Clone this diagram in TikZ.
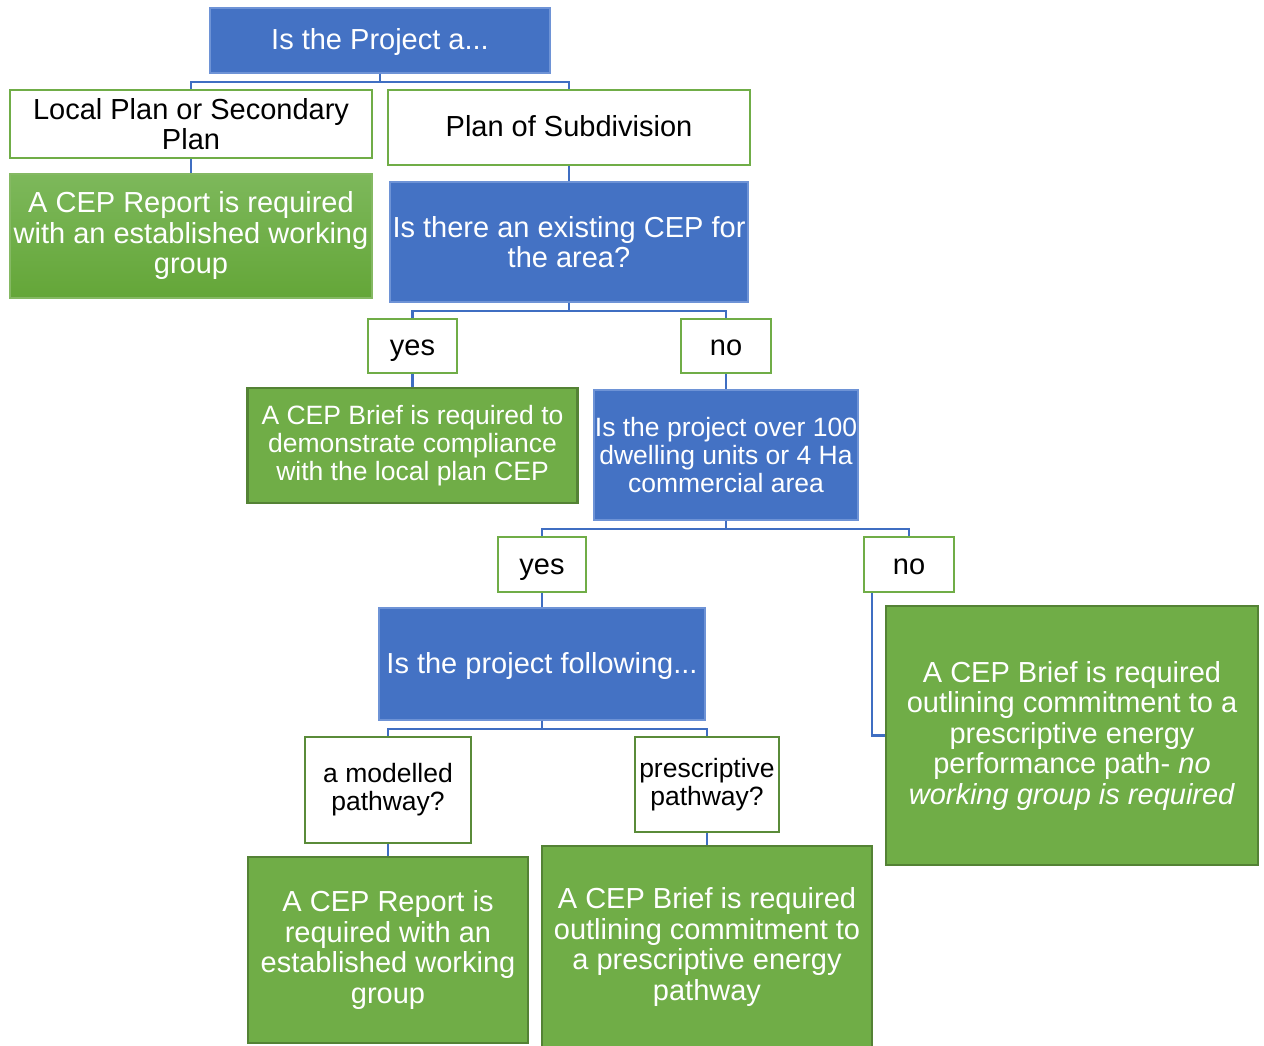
\documentclass[tikz,border=0pt]{standalone}
\usepackage{fontspec}
\setmainfont{Liberation Sans}
\definecolor{cblue}{HTML}{4472C4}
\definecolor{cgreen}{HTML}{70AD47}
\definecolor{dgreen}{HTML}{548235}
\definecolor{lblue}{HTML}{6E93D6}
\definecolor{lnblue}{HTML}{3F6EC2}
\definecolor{gtop}{HTML}{7DB85B}
\definecolor{gbot}{HTML}{64A638}
\tikzset{
  bigf/.style={font=\fontsize{29}{30.5}\selectfont},
  medf/.style={font=\fontsize{26.5}{28}\selectfont},
  oneline/.style={text height=24pt, text depth=5pt},
  anybox/.style={inner sep=0pt, align=center},
  qbox/.style={anybox, bigf, fill=cblue, draw=lblue, line width=1.2pt, text=white},
  wbox/.style={anybox, bigf, fill=white, draw=cgreen, line width=2.6pt, text=black},
  gbox/.style={anybox, bigf, fill=cgreen, draw=dgreen, line width=2.6pt, text=white},
  conn/.style={draw=lnblue, line width=2.4pt},
}
\begin{document}
\begin{tikzpicture}[x=1pt,y=-1pt]
\useasboundingbox (0,0) rectangle (1264,1046);
\clip (0,0) rectangle (1264,1046);
\fill[white] (0,0) rectangle (1264,1046);

\node[qbox, oneline, minimum width=340pt, minimum height=65pt] (top) at (380,40.5) {Is the Project a...};
\node[wbox, minimum width=362pt, minimum height=68pt] (lp) at (191,124) {Local Plan or Secondary\\Plan};
\node[wbox, oneline, minimum width=362pt, minimum height=75pt] (ps) at (569,127.5) {Plan of Subdivision};
\node[gbox, draw=cgreen!85!white, line width=1.5pt, top color=gtop, bottom color=gbot, minimum width=362pt, minimum height=124pt] (g1) at (191,236) {A CEP Report is required\\with an established working\\group};
\node[qbox, minimum width=358pt, minimum height=120pt] (q2) at (569,242) {Is there an existing CEP for\\the area?};
\node[wbox, oneline, minimum width=89pt, minimum height=54pt] (y1) at (412.5,346) {yes};
\node[wbox, oneline, minimum width=90pt, minimum height=54pt] (n1) at (726,346) {no};
\node[gbox, medf, minimum width=330pt, minimum height=115pt] (g2) at (412.5,445.5) {A CEP Brief is required to\\demonstrate compliance\\with the local plan CEP};
\node[qbox, medf, minimum width=264pt, minimum height=130pt] (q3) at (726,455) {Is the project over 100\\dwelling units or 4 Ha\\commercial area};
\node[wbox, oneline, minimum width=88pt, minimum height=55pt] (y2) at (542,564.5) {yes};
\node[wbox, oneline, minimum width=90pt, minimum height=55pt] (n2) at (909,564.5) {no};
\node[qbox, oneline, minimum width=326pt, minimum height=112pt] (q4) at (542,664) {Is the project following...};
\node[gbox, minimum width=372pt, minimum height=259pt] (g3) at (1072,735.5) {A CEP Brief is required\\outlining commitment to a\\prescriptive energy\\performance path- \textit{no}\\\textit{working group is required}};
\node[wbox, medf, draw=dgreen!80!cgreen, minimum width=166pt, minimum height=106pt] (m) at (388,790) {a modelled\\pathway?};
\node[wbox, medf, draw=dgreen!80!cgreen, minimum width=144pt, minimum height=95pt] (p) at (707,784.5) {prescriptive\\pathway?};
\node[gbox, minimum width=280pt, minimum height=186pt] (g4) at (388,950) {A CEP Report is\\required with an\\established working\\group};
\node[gbox, minimum width=330pt, minimum height=202pt] (g5) at (707,947) {A CEP Brief is required\\outlining commitment to\\a prescriptive energy\\pathway};

\draw[conn] (top.south) -- ++(0,8.5) -| (lp.north);
\draw[conn] (top.south) -- ++(0,8.5) -| (ps.north);
\draw[conn] (lp.south) -- (g1.north);
\draw[conn] (ps.south) -- (q2.north);
\draw[conn] (q2.south) -- ++(0,8.5) -| (y1.north);
\draw[conn] (q2.south) -- ++(0,8.5) -| (n1.north);
\draw[conn] (y1.south) -- (g2.north);
\draw[conn] (n1.south) -- (q3.north);
\draw[conn] (q3.south) -- ++(0,8.5) -| (y2.north);
\draw[conn] (q3.south) -- ++(0,8.5) -| (n2.north);
\draw[conn] (y2.south) -- (q4.north);
\draw[conn] ([xshift=9pt]n2.south west) |- (g3.west);
\draw[conn] (q4.south) -- ++(0,8.5) -| (m.north);
\draw[conn] (q4.south) -- ++(0,8.5) -| (p.north);
\draw[conn] (m.south) -- (g4.north);
\draw[conn] (p.south) -- (g5.north);
\end{tikzpicture}
\end{document}
